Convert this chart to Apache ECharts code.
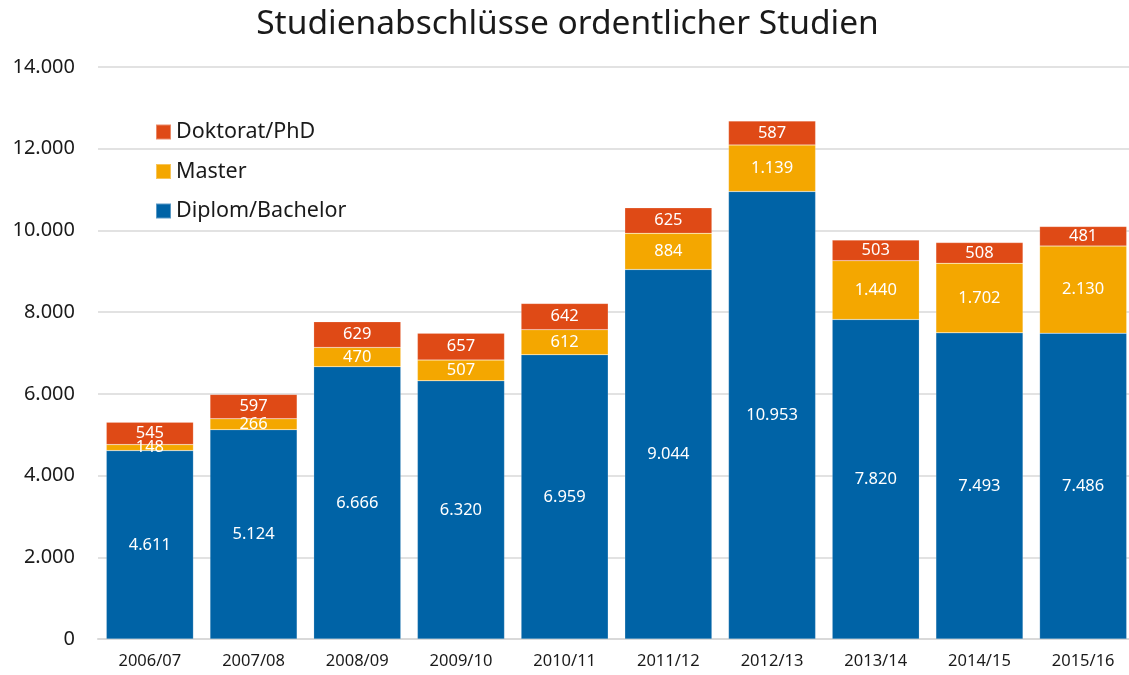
<!DOCTYPE html>
<html>
<head>
<meta charset="utf-8">
<script src="https://cdn.jsdelivr.net/npm/echarts@6/dist/echarts.min.js"></script>
<style>html,body{margin:0;padding:0;background:#fff;overflow:hidden}#c{width:1135px;height:675px}</style>
</head>
<body>
<div id="c"></div>
<script>
const categories = ['2006/07','2007/08','2008/09','2009/10','2010/11','2011/12','2012/13','2013/14','2014/15','2015/16'];
const diplom = [4611, 5124, 6666, 6320, 6959, 9044, 10953, 7820, 7493, 7486];
const master = [148, 266, 470, 507, 612, 884, 1139, 1440, 1702, 2130];
const doktorat = [545, 597, 629, 657, 642, 625, 587, 503, 508, 481];
const yTicks = [0, 2000, 4000, 6000, 8000, 10000, 12000, 14000];

const FONT = 'Noto Sans';
function fmt(v){ return String(v).replace(/\B(?=(\d{3})+(?!\d))/g, '.'); }

const chart = echarts.init(document.getElementById('c'));
const label = {show:true, position:'inside', color:'#fff', fontSize:16.5, fontFamily:FONT, formatter:p=>fmt(p.value)};
function series(name, data, color){
  return {name, type:'bar', stack:'t', data, barCategoryGap:'16%',
    itemStyle:{color, borderColor:'rgba(255,255,255,0.35)', borderWidth:0.5}, label, emphasis:{disabled:true}};
}
chart.setOption({
  animation:false,
  textStyle:{fontFamily:FONT},
  title:{text:'Studienabschlüsse ordentlicher Studien', left:'center', top:2,
    textStyle:{fontSize:33.5, fontWeight:'normal', color:'#1a1a1a', fontFamily:FONT}},
  legend:{orient:'vertical', left:150, top:116, itemWidth:15, itemHeight:15, itemGap:17.5,
    icon:'rect', data:['Doktorat/PhD','Master','Diplom/Bachelor'],
    textStyle:{fontSize:21.5, color:'#1a1a1a', fontFamily:FONT}},
  grid:{left:98, right:0, top:67, bottom:36, containLabel:false},
  xAxis:{type:'category', data:categories,
    axisLine:{lineStyle:{color:'#d9d9d9', width:2}}, axisTick:{show:false},
    axisLabel:{fontSize:16.5, color:'#1a1a1a', margin:14, fontFamily:FONT}},
  yAxis:{type:'value', min:0, max:14000, interval:2000,
    axisLine:{show:false}, axisTick:{show:false},
    splitLine:{lineStyle:{color:'#d9d9d9', width:1.5}},
    axisLabel:{fontSize:20, color:'#1a1a1a', margin:23, fontFamily:FONT,
      formatter:v=>yTicks.includes(v)?fmt(v):''}},
  series:[
    series('Diplom/Bachelor', diplom, '#0063A6'),
    series('Master', master, '#F4A700'),
    series('Doktorat/PhD', doktorat, '#DF4A16')
  ]
});
</script>
</body>
</html>
